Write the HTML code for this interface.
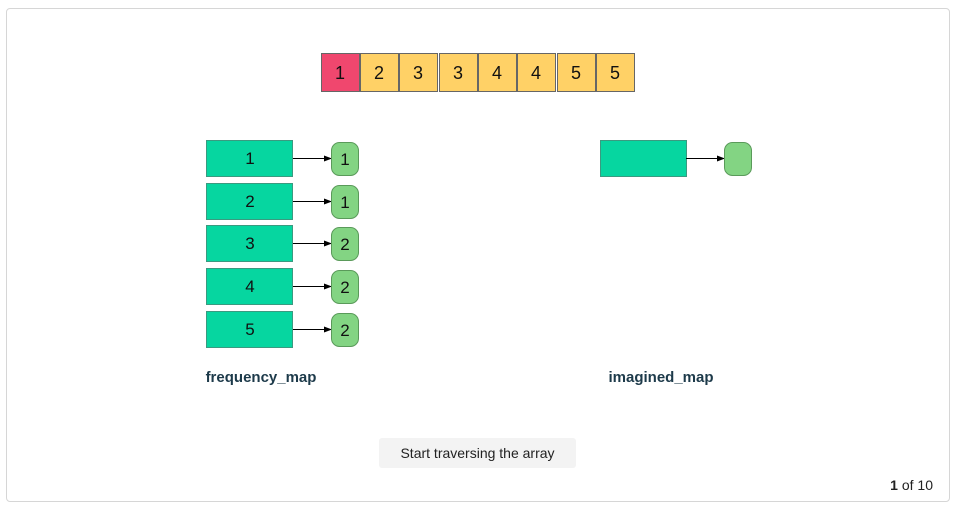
<!DOCTYPE html>
<html><head><style>
body{margin:0;width:957px;height:508px;background:#fff;overflow:hidden;font-family:"Liberation Sans",sans-serif}
.box{position:absolute;left:6px;top:8px;width:942px;height:492px;border:1px solid #d6d6d6;border-radius:4px}
.btn{position:absolute;left:379px;top:438px;width:197px;height:30px;background:#f3f3f3;border-radius:3px;font-size:14px;line-height:30px;text-align:center;color:#222}
.pg{position:absolute;right:24px;top:477px;font-size:14px;color:#222}
</style></head><body>
<div class="box"></div>
<svg width="957" height="508" style="position:absolute;left:0;top:0" font-family="Liberation Sans, sans-serif">
<defs><marker id="a" markerWidth="8" markerHeight="8" refX="7" refY="4" orient="auto" markerUnits="userSpaceOnUse"><path d="M0,1 L8,4 L0,7z" fill="#000"/></marker></defs>
<g stroke="#666" stroke-width="1" font-size="18" text-anchor="middle">
<rect x="321.5" y="53.5" width="38" height="38" fill="#f0476e"/>
<rect x="360.5" y="53.5" width="38" height="38" fill="#ffd166"/>
<rect x="399.5" y="53.5" width="38" height="38" fill="#ffd166"/>
<rect x="439.5" y="53.5" width="38" height="38" fill="#ffd166"/>
<rect x="478.5" y="53.5" width="38" height="38" fill="#ffd166"/>
<rect x="517.5" y="53.5" width="38" height="38" fill="#ffd166"/>
<rect x="557.5" y="53.5" width="38" height="38" fill="#ffd166"/>
<rect x="596.5" y="53.5" width="38" height="38" fill="#ffd166"/>
</g>
<g font-size="18" text-anchor="middle" fill="#111">
<text x="340" y="79">1</text><text x="379" y="79">2</text><text x="418" y="79">3</text><text x="458" y="79">3</text><text x="497" y="79">4</text><text x="536" y="79">4</text><text x="576" y="79">5</text><text x="615" y="79">5</text>
</g>
<g font-size="17" text-anchor="middle" fill="#111">
<g transform="translate(0,0)"><rect x="206.5" y="140.5" width="86" height="36" fill="#06d6a0" stroke="#3a9a80"/><line x1="293" y1="158.5" x2="331" y2="158.5" stroke="#000" marker-end="url(#a)"/><rect x="331.5" y="142.5" width="27" height="33" rx="8" fill="#83d483" stroke="#5a9a5a"/><text x="250" y="164">1</text><text x="345" y="165">1</text></g>
<g transform="translate(0,43)"><rect x="206.5" y="140.5" width="86" height="36" fill="#06d6a0" stroke="#3a9a80"/><line x1="293" y1="158.5" x2="331" y2="158.5" stroke="#000" marker-end="url(#a)"/><rect x="331.5" y="142.5" width="27" height="33" rx="8" fill="#83d483" stroke="#5a9a5a"/><text x="250" y="164">2</text><text x="345" y="165">1</text></g>
<g transform="translate(0,85)"><rect x="206.5" y="140.5" width="86" height="36" fill="#06d6a0" stroke="#3a9a80"/><line x1="293" y1="158.5" x2="331" y2="158.5" stroke="#000" marker-end="url(#a)"/><rect x="331.5" y="142.5" width="27" height="33" rx="8" fill="#83d483" stroke="#5a9a5a"/><text x="250" y="164">3</text><text x="345" y="165">2</text></g>
<g transform="translate(0,128)"><rect x="206.5" y="140.5" width="86" height="36" fill="#06d6a0" stroke="#3a9a80"/><line x1="293" y1="158.5" x2="331" y2="158.5" stroke="#000" marker-end="url(#a)"/><rect x="331.5" y="142.5" width="27" height="33" rx="8" fill="#83d483" stroke="#5a9a5a"/><text x="250" y="164">4</text><text x="345" y="165">2</text></g>
<g transform="translate(0,171)"><rect x="206.5" y="140.5" width="86" height="36" fill="#06d6a0" stroke="#3a9a80"/><line x1="293" y1="158.5" x2="331" y2="158.5" stroke="#000" marker-end="url(#a)"/><rect x="331.5" y="142.5" width="27" height="33" rx="8" fill="#83d483" stroke="#5a9a5a"/><text x="250" y="164">5</text><text x="345" y="165">2</text></g>
<rect x="600.5" y="140.5" width="86" height="36" fill="#06d6a0" stroke="#3a9a80"/><line x1="686" y1="158.5" x2="724" y2="158.5" stroke="#000" marker-end="url(#a)"/><rect x="724.5" y="142.5" width="27" height="33" rx="8" fill="#83d483" stroke="#5a9a5a"/>
</g>
<g font-size="15" font-weight="bold" fill="#1d3a4a" text-anchor="middle">
<text x="261" y="382">frequency_map</text><text x="661" y="382">imagined_map</text>
</g>
</svg>
<div class="btn">Start traversing the array</div>
<div class="pg"><b>1</b> of 10</div>
</body></html>
